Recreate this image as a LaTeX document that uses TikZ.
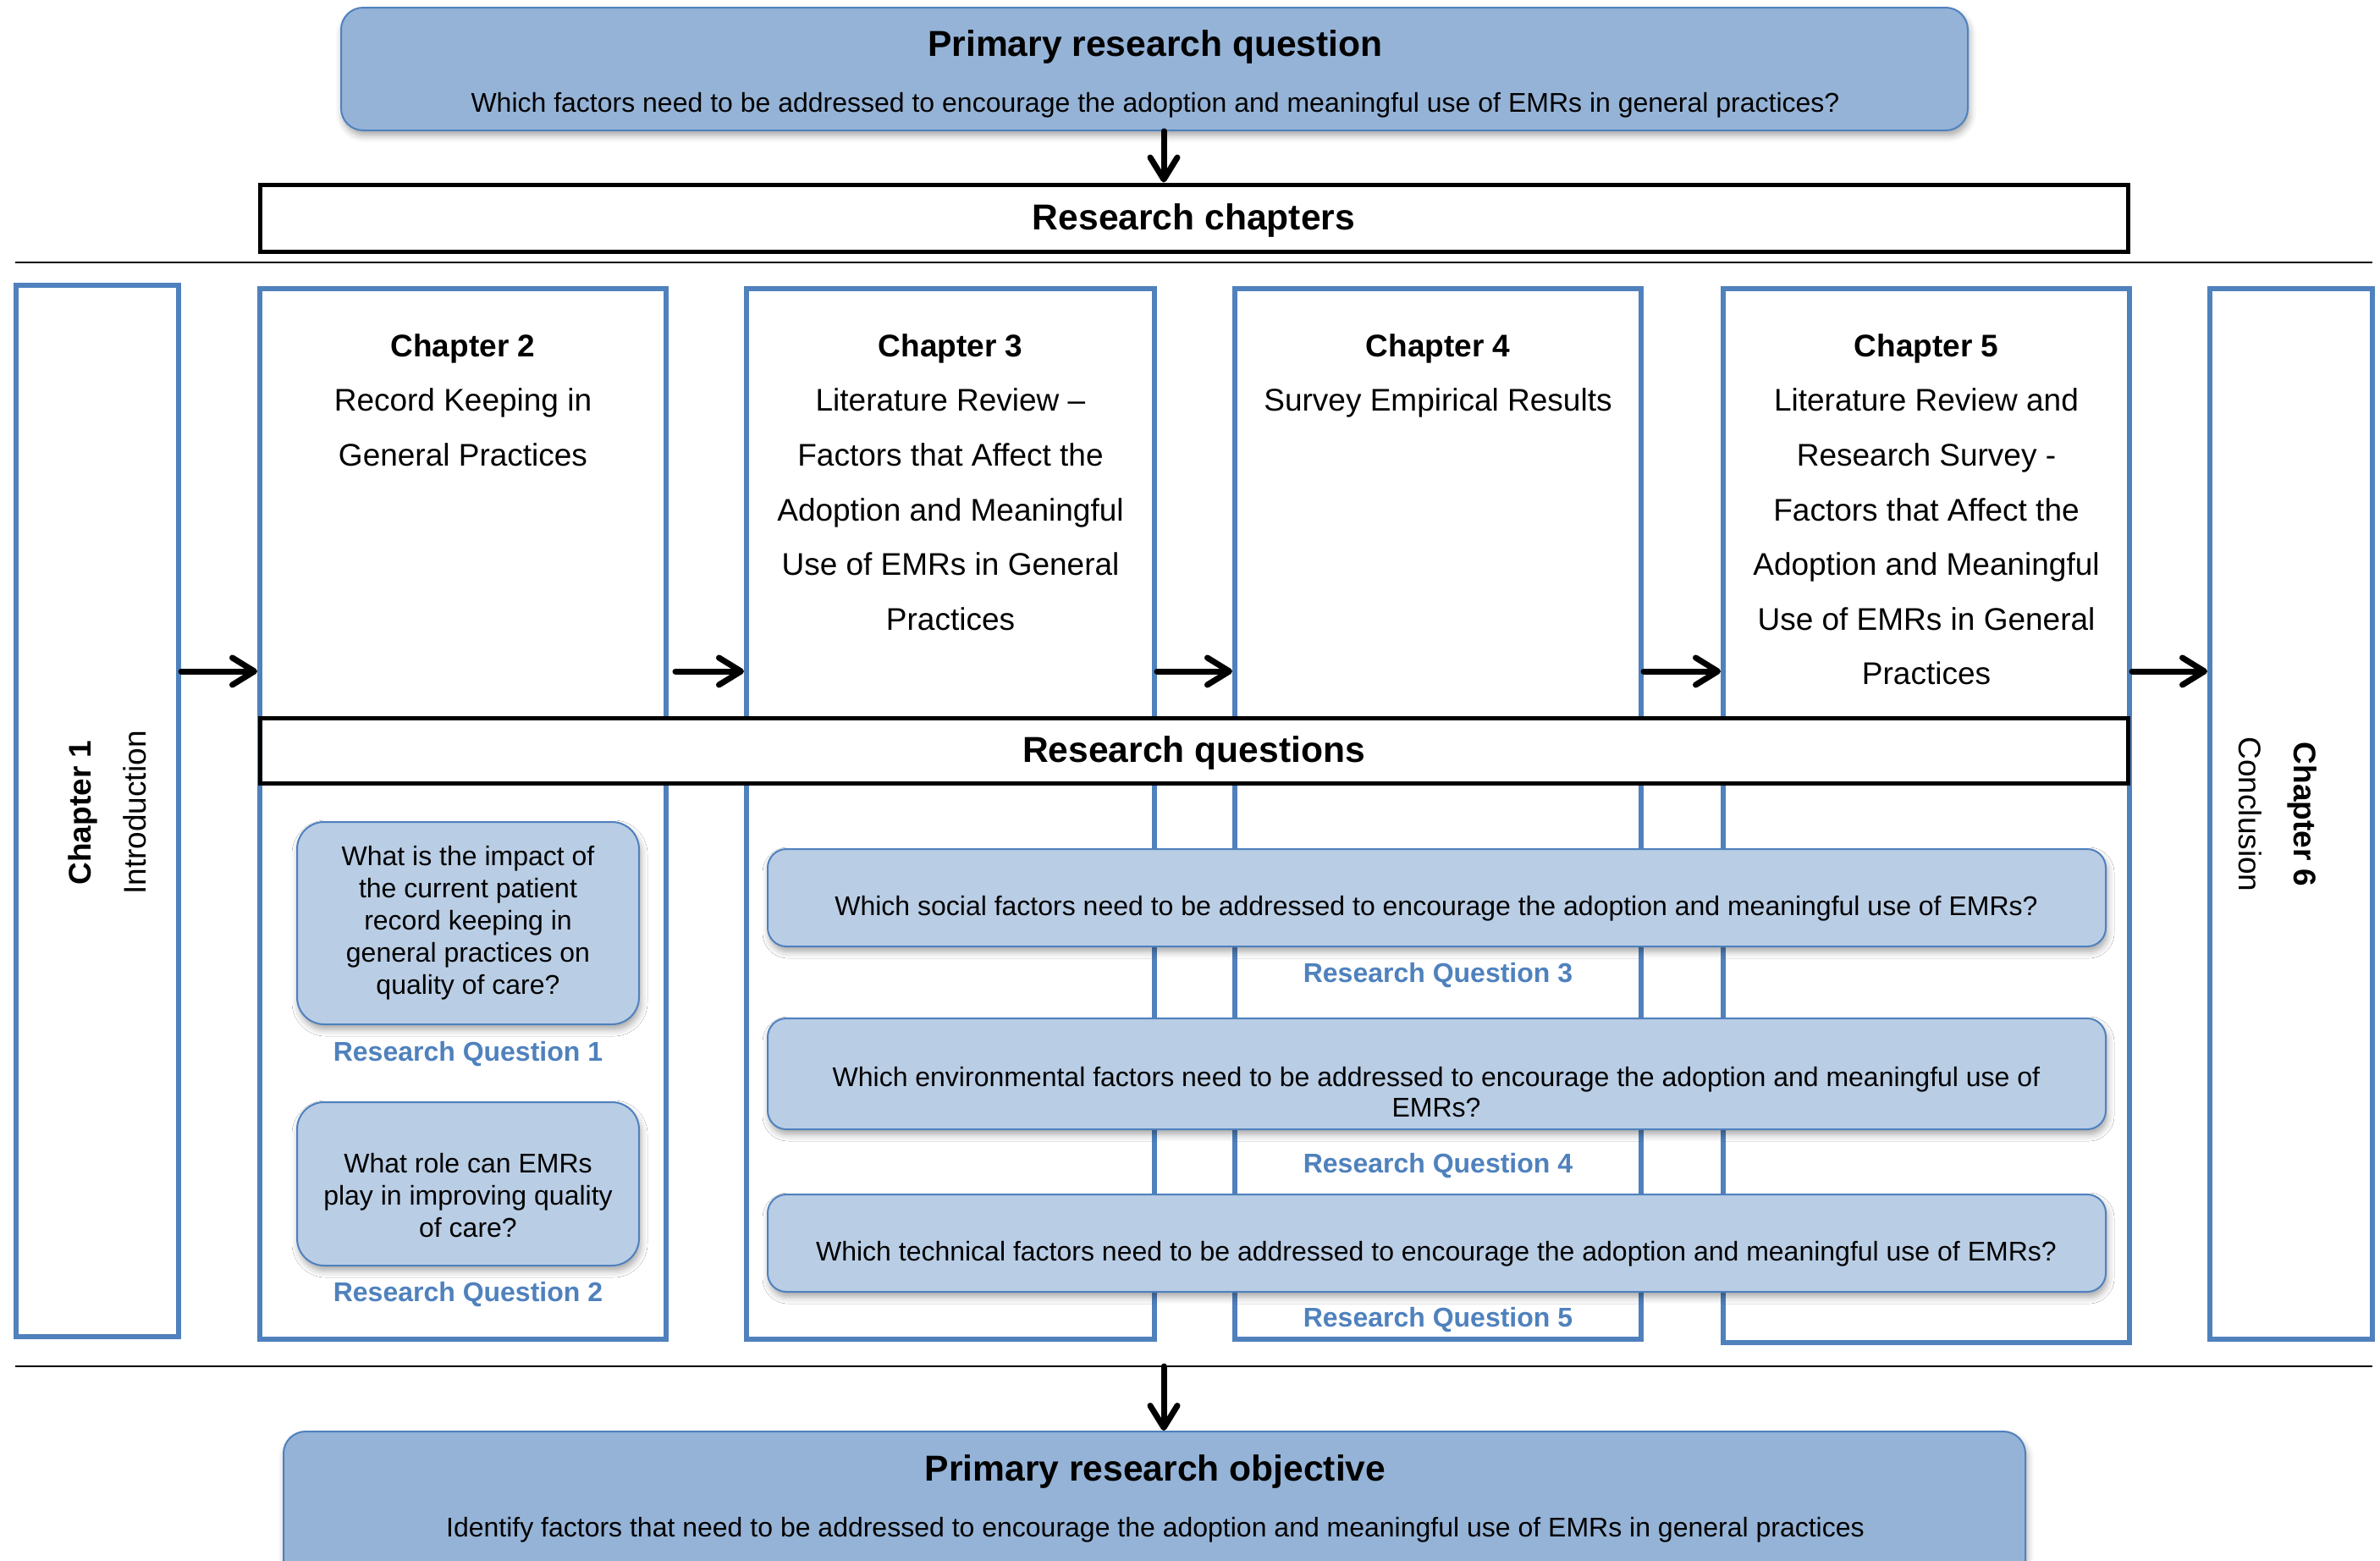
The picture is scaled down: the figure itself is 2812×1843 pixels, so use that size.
\documentclass[tikz,border=0pt]{standalone}
\usepackage{fontspec}
\setmainfont{Liberation Sans}
\usetikzlibrary{arrows.meta,fit,shadows.blur}
\definecolor{boxblue}{HTML}{4F81BD}
\definecolor{primfill}{HTML}{95B3D7}
\definecolor{rqfill}{HTML}{B9CDE5}

\begin{document}
\begin{tikzpicture}[x=0.5pt,y=-0.5pt,
  softshadow/.style={blur shadow={shadow xshift=1pt, shadow yshift=-3pt,
      shadow blur radius=4pt, shadow opacity=35}},
  primbox/.style={draw=boxblue, line width=1pt, fill=primfill,
      rounded corners=13pt, inner sep=0pt, softshadow},
  chapbox/.style={draw=boxblue, line width=3pt, fill=white, inner sep=0pt},
  headbox/.style={draw=black, line width=2.5pt, fill=white, inner sep=0pt},
  rqnarrow/.style={draw=boxblue, line width=1pt, fill=rqfill,
      rounded corners=16pt, inner sep=0pt, softshadow},
  rqwide/.style={draw=boxblue, line width=1pt, fill=rqfill,
      rounded corners=11pt, inner sep=0pt, softshadow},
  sepline/.style={draw=black, line width=1pt},
  flowarrow/.style={line width=3.5pt, line cap=round,
      -{Straight Barb[length=13pt,width=16pt,round]}},
  txt/.style={inner sep=0pt, align=center},
  titletext/.style={txt, font=\fontsize{21.3}{25}\selectfont\bfseries},
  bodytext/.style={txt, font=\fontsize{16}{19}\selectfont},
  chaptext/.style={txt, anchor=north, font=\fontsize{18.5}{32.3}\selectfont},
  rqlabel/.style={txt, text=boxblue, font=\fontsize{16}{19}\selectfont\bfseries},
]
\useasboundingbox (0,0) rectangle (2812,1843);

% ---------- primary question ----------
\node[primbox, fit={(403,9) (2325,154)}] (top) {};
\node[titletext] (toptitle) at (1365,55) {Primary research question};
\node[bodytext] (toptext) at (1365,124) {Which factors need to be addressed to encourage the adoption and meaningful use of EMRs in general practices?};

% ---------- research chapters banner ----------
\node[headbox, fit={(307,218) (2514,297)}] (rc) {};
\node[titletext] (rctitle) at ([yshift=-1.5pt]rc.center) {Research chapters};

\draw[sepline] (18,310) -- (2803,310);
\coordinate (sepB) at (18,1614);
\draw[sepline] (sepB) -- (2803,1614);

% ---------- chapter columns ----------
\node[chapbox, fit={(19,337) (211,1579)}] (ch1) {};
\node[chapbox, fit={(307,341) (787,1582)}] (ch2) {};
\node[chapbox, fit={(882,341) (1364,1582)}] (ch3) {};
\node[chapbox, fit={(1459,341) (1939,1582)}] (ch4) {};
\node[chapbox, fit={(2036,341) (2516,1586)}] (ch5) {};
\node[chapbox, fit={(2611,341) (2803,1582)}] (ch6) {};

\node[chaptext, anchor=center, rotate=90] (ch1t) at (127,960)
  {{\bfseries Chapter 1}\\Introduction};
\node[chaptext] (ch2t) at (547,394)
  {{\bfseries Chapter 2}\\Record Keeping in\\General Practices};
\node[chaptext] (ch3t) at (1123,394)
  {{\bfseries Chapter 3}\\Literature Review –\\Factors that Affect the\\Adoption and Meaningful\\Use of EMRs in General\\Practices};
\node[chaptext] (ch4t) at (1699,394)
  {{\bfseries Chapter 4}\\Survey Empirical Results};
\node[chaptext] (ch5t) at (2276,394)
  {{\bfseries Chapter 5}\\Literature Review and\\Research Survey -\\Factors that Affect the\\Adoption and Meaningful\\Use of EMRs in General\\Practices};
\node[chaptext, anchor=center, rotate=-90] (ch6t) at (2691,962)
  {{\bfseries Chapter 6}\\Conclusion};

% ---------- flow between chapters ----------
\coordinate (ay) at (0,793);
\draw[flowarrow] (ch1.east |- ay) -- (ch2.west |- ay);
\draw[flowarrow] ([xshift=4pt]ch2.east |- ay) -- (ch3.west |- ay);
\draw[flowarrow] (ch3.east |- ay) -- (ch4.west |- ay);
\draw[flowarrow] (ch4.east |- ay) -- (ch5.west |- ay);
\draw[flowarrow] (ch5.east |- ay) -- (ch6.west |- ay);

% ---------- research questions ----------
\node[headbox, fit={(307,848) (2514,925)}] (rqh) {};
\node[titletext] (rqhtitle) at ([yshift=-1.5pt]rqh.center) {Research questions};

\node[rqnarrow, fit={(351,971) (755,1210)}] (rq1) {};
\node[bodytext] (rq1t) at (553,1090) {What is the impact of\\the current patient\\record keeping in\\general practices on\\quality of care?};
\node[rqlabel] (rq1l) at (553,1245) {Research Question 1};

\node[rqnarrow, fit={(351,1302) (755,1495)}] (rq2) {};
\node[bodytext] (rq2t) at (553,1412) {What role can EMRs\\play in improving quality\\of care?};
\node[rqlabel] (rq2l) at (553,1529) {Research Question 2};

\node[rqwide, fit={(907,1003) (2488,1118)}] (rq3) {};
\node[bodytext] (rq3t) at (1697,1073) {Which social factors need to be addressed to encourage the adoption and meaningful use of EMRs?};
\node[rqlabel] (rq3l) at (ch4.center |- 0,1152) {Research Question 3};

\node[rqwide, fit={(907,1203) (2488,1334)}] (rq4) {};
\node[bodytext, font=\fontsize{16}{17.8}\selectfont] (rq4t) at (1697,1290) {Which environmental factors need to be addressed to encourage the adoption and meaningful use of\\EMRs?};
\node[rqlabel] (rq4l) at (ch4.center |- 0,1377) {Research Question 4};

\node[rqwide, fit={(907,1411) (2488,1526)}] (rq5) {};
\node[bodytext] (rq5t) at (1697,1481) {Which technical factors need to be addressed to encourage the adoption and meaningful use of EMRs?};
\node[rqlabel] (rq5l) at (ch4.center |- 0,1559) {Research Question 5};

% ---------- primary objective ----------
\begin{scope}
  \clip (0,0) rectangle (2812,1843);
  \node[primbox, fit={(335,1691) (2393,1930)}] (obj) {};
\end{scope}
\node[titletext] (objtitle) at (1365,1738) {Primary research objective};
\node[bodytext] (objtext) at (1365,1807) {Identify factors that need to be addressed to encourage the adoption and meaningful use of EMRs in general practices};

% ---------- vertical flow ----------
\coordinate (ax) at (1375,0);
\draw[flowarrow] (top.south -| ax) -- (rc.north -| ax);
\draw[flowarrow] (sepB -| ax) -- (obj.north -| ax);
\end{tikzpicture}
\end{document}
